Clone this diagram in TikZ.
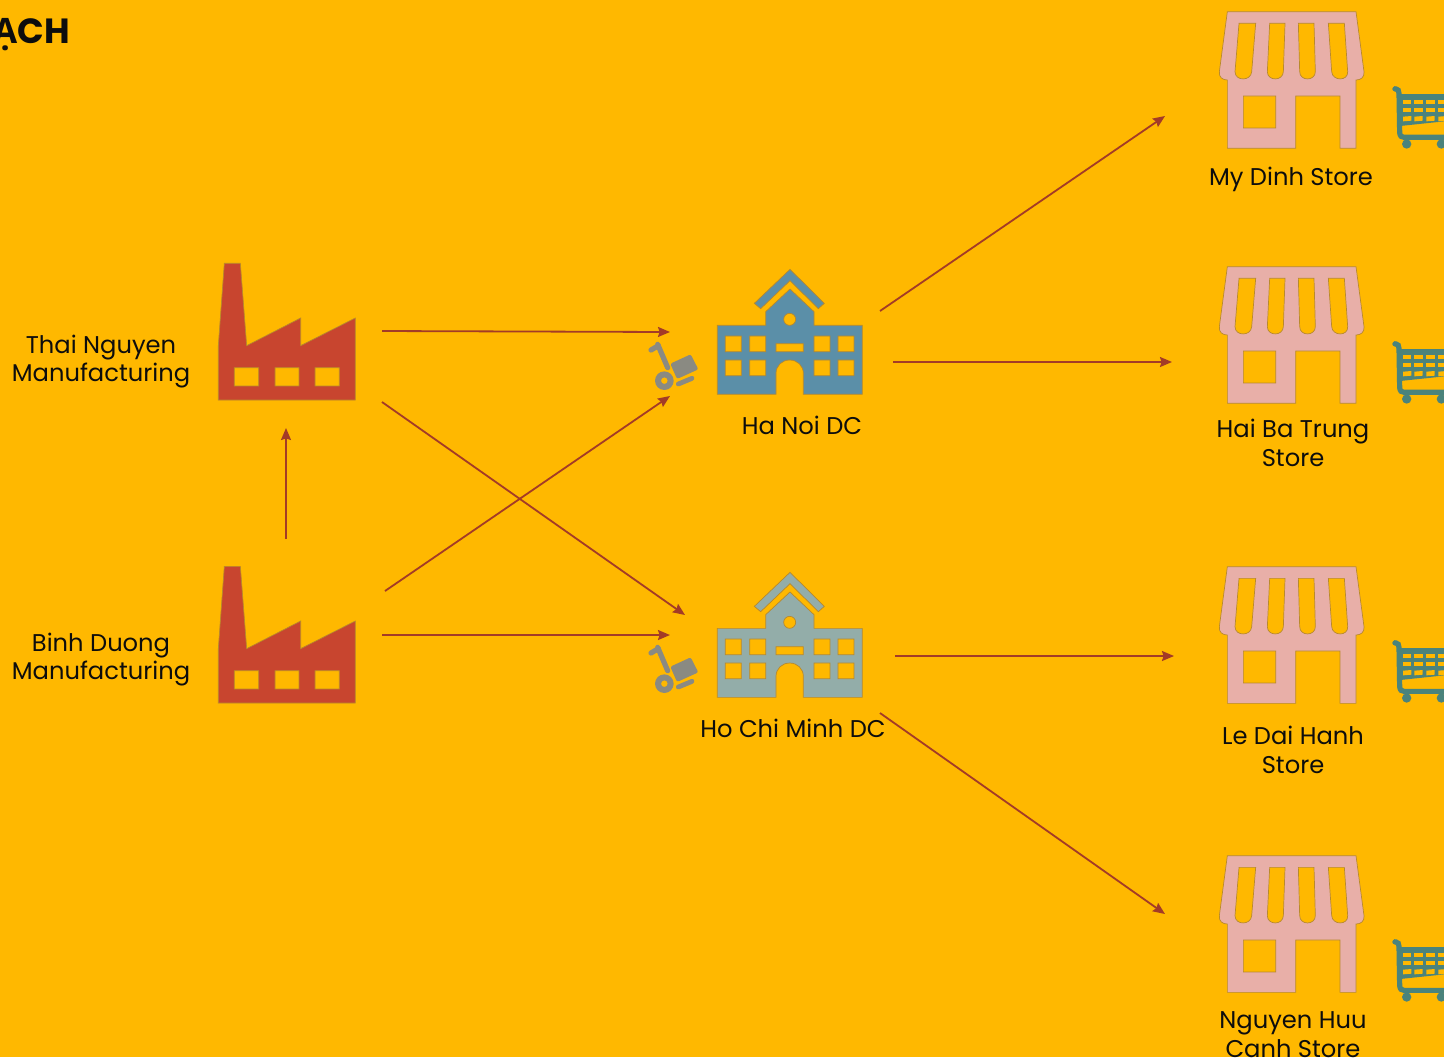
\documentclass[tikz,border=0pt]{standalone}
\usepackage{fontspec}
\setmainfont{Poppins}
\newfontfamily\titlefb{Open Sans}[BoldFont={* Bold}]
\usetikzlibrary{arrows.meta}
\definecolor{bgc}{HTML}{FFB800}
\definecolor{factoryc}{HTML}{C8452F}
\definecolor{storec}{HTML}{E8AFA8}
\definecolor{dcblue}{HTML}{5B8FA8}
\definecolor{dcgrey}{HTML}{93ADA9}
\definecolor{cartc}{HTML}{4A837C}
\definecolor{trolleyc}{HTML}{8A8A82}
\definecolor{arrowc}{HTML}{A33B27}
\definecolor{edgec}{HTML}{B8892C}
\definecolor{textc}{HTML}{0D0D0D}
\tikzset{
  link/.style={arrowc,line width=0.9pt,-{Stealth[length=6pt,width=5pt,inset=0.8pt]}},
  lbl/.style={textc,align=center,inner sep=0pt,font=\fontsize{12.1pt}{14.3pt}\selectfont},
  iconedge/.style={draw=edgec,line width=0.35pt,even odd rule},
  factoryicon/.pic={
    \begin{scope}[scale=1/3]
    \path[iconedge,fill=factoryc] (73,40)--(121,40)--(140,287)--(302,204)--(302,287)--(466,204)--(466,450)--(55,450)--(55,287)--cycle
      (103,353) rectangle (176,408) (225,353) rectangle (297,408) (345,353) rectangle (418,408);
    \end{scope}},
  storeicon/.pic={
    \begin{scope}[scale=1/3]
    \path[iconedge,fill=storec] (82,35)--(468,35)--(492,215) .. controls (494,232) and (482,240) .. (468,240)--(468,445)--(420,445)--(420,288)--(287,288)--(287,445)--(82,445)--(82,240) .. controls (68,240) and (56,232) .. (58,215)--cycle
      (130,288) rectangle (227,384)
      (117,70)--(167,70)--(155,215) .. controls (153,244) and (105,244) .. (105,215)--cycle
      (209,70)--(255,70)--(250,215) .. controls (249,244) and (202,244) .. (202,215)--cycle
      (295,70)--(342,70)--(346,215) .. controls (346,244) and (299,244) .. (299,215)--cycle
      (385,70)--(433,70)--(443,215) .. controls (445,244) and (397,244) .. (395,215)--cycle;
    \end{scope}},
  dcicon/.pic={
    \begin{scope}[scale=1/3]
    \path[iconedge,fill=#1] (343,130)--(450,28)--(553,130)--(535,146)--(450,62)--(362,146)--cycle;
    \path[iconedge,fill=#1] (232,196)--(377,196)--(377,155)--(450,87)--(522,155)--(522,196)--(667,196)--(667,403)--(490,403)--(490,340) .. controls (490,317) and (472,300) .. (449,300) .. controls (426,300) and (408,317) .. (408,340)--(408,403)--(232,403)--cycle
      (449,178) circle (18)
      (256,228) rectangle (304,275) (329,228) rectangle (377,275) (522,228) rectangle (570,275) (594,228) rectangle (642,275)
      (256,300) rectangle (304,347) (329,300) rectangle (377,347) (522,300) rectangle (570,347) (594,300) rectangle (642,347)
      (408,251) rectangle (490,275);
    \end{scope}},
  trolleyicon/.pic={
    \begin{scope}[scale=1/3]
    \draw[trolleyc,line width=2.6pt,line cap=round] (18,45)--(40,32);
    \draw[trolleyc,line width=2.6pt,line cap=round] (38,28)--(68,98);
    \fill[trolleyc,even odd rule] (58,137) circle (28) (58,137) circle (10);
    \fill[trolleyc,rounded corners=1pt] (76,86)--(137,58)--(160,103)--(96,132)--cycle;
    \draw[trolleyc,line width=2.4pt,line cap=round] (100,147)--(141,130);
    \end{scope}},
  carticon/.pic={
    \begin{scope}[scale=1/3]
    \fill[cartc] (42,42)--(200,42)--(200,122)--(48,138)--cycle;
    \foreach \cx in {57,91,127,163}{
      \fill[bgc] (\cx,59) rectangle ++(25,13);
      \fill[bgc] (\cx,83) rectangle ++(25,13);
      \fill[bgc] (\cx,110)--++(25,-2)--++(0,14)--++(-25,2)--cycle;
    }
    \draw[cartc,line width=2.6pt,line cap=round] (34,26) .. controls (42,27) and (45,32) .. (45,40) -- (47,158) .. controls (48,168) and (52,172) .. (60,172) -- (200,172);
    \fill[cartc] (32,27) circle (7);
    \fill[cartc] (68,192) circle (14) (172,192) circle (14);
    \end{scope}}
}
\begin{document}
\begin{tikzpicture}[x=0.5pt,y=-0.5pt]
\clip (0,0) rectangle (1444,1057);
\fill[bgc] (0,0) rectangle (1444,1057);

% title
\node[anchor=base east,inner sep=0pt,textc,font=\bfseries\fontsize{17.5pt}{20pt}\selectfont] (title) at (70,43) {{\titlefb Ạ}CH};

% factories
\pic (factA) at (200,250) {factoryicon};
\pic (factB) at (200,553) {factoryicon};
% distribution centres
\pic (dcA) at (640,260) {dcicon=dcblue};
\pic (dcB) at (640,563) {dcicon=dcgrey};
\pic (trolA) at (645,335) {trolleyicon};
\pic (trolB) at (645,638) {trolleyicon};
% stores
\pic (storeA) at (1200,0) {storeicon};
\pic (storeB) at (1200,255) {storeicon};
\pic (storeC) at (1200,555) {storeicon};
\pic (storeD) at (1200,844) {storeicon};
% carts
\pic (cartA) at (1384,80) {carticon};
\pic (cartB) at (1384,335) {carticon};
\pic (cartC) at (1384,634) {carticon};
\pic (cartD) at (1384,933) {carticon};

% labels
\node[lbl] (lThai) at (101,361.5) {Thai Nguyen\\Manufacturing};
\node[lbl] (lBinh) at (101,659.5) {Binh Duong\\Manufacturing};
\node[lbl] (lHN) at (802,425) {Ha Noi DC};
\node[lbl] (lHCM) at (793,728) {Ho Chi Minh DC};
\node[lbl] (lMD) at (1291,179) {My Dinh Store};
\node[lbl] (lHBT) at (1293,443) {Hai Ba Trung\\Store};
\node[lbl] (lLDH) at (1293,750) {Le Dai Hanh\\Store};
\node[lbl] (lNHC) at (1293,1034.5) {Nguyen Huu\\Canh Store};

% connector ends
\coordinate (tOutHN) at (382,331);
\coordinate (tOutHCM) at (382,402);
\coordinate (tIn) at (286,428);
\coordinate (bOutT) at (286,539);
\coordinate (bOutHN) at (385,591);
\coordinate (bOutHCM) at (382,635);
\coordinate (hnInT) at (670,332);
\coordinate (hnInB) at (670,396);
\coordinate (hcmInT) at (685,615);
\coordinate (hcmInB) at (670,635);
\coordinate (hnOutMD) at (880,311);
\coordinate (hnOutHBT) at (893,362);
\coordinate (hcmOutLDH) at (895,656);
\coordinate (hcmOutNHC) at (880,713);
\coordinate (mdIn) at (1165,116);
\coordinate (hbtIn) at (1172,362);
\coordinate (ldhIn) at (1174,656);
\coordinate (nhcIn) at (1165,914);

% connectors
\draw[link] (tOutHN) -- (hnInT);
\draw[link] (bOutHN) -- (hnInB);
\draw[link] (tOutHCM) -- (hcmInT);
\draw[link] (bOutHCM) -- (hcmInB);
\draw[link] (bOutT) -- (tIn);
\draw[link] (hnOutMD) -- (mdIn);
\draw[link] (hnOutHBT) -- (hbtIn);
\draw[link] (hcmOutLDH) -- (ldhIn);
\draw[link] (hcmOutNHC) -- (nhcIn);
\end{tikzpicture}
\end{document}
